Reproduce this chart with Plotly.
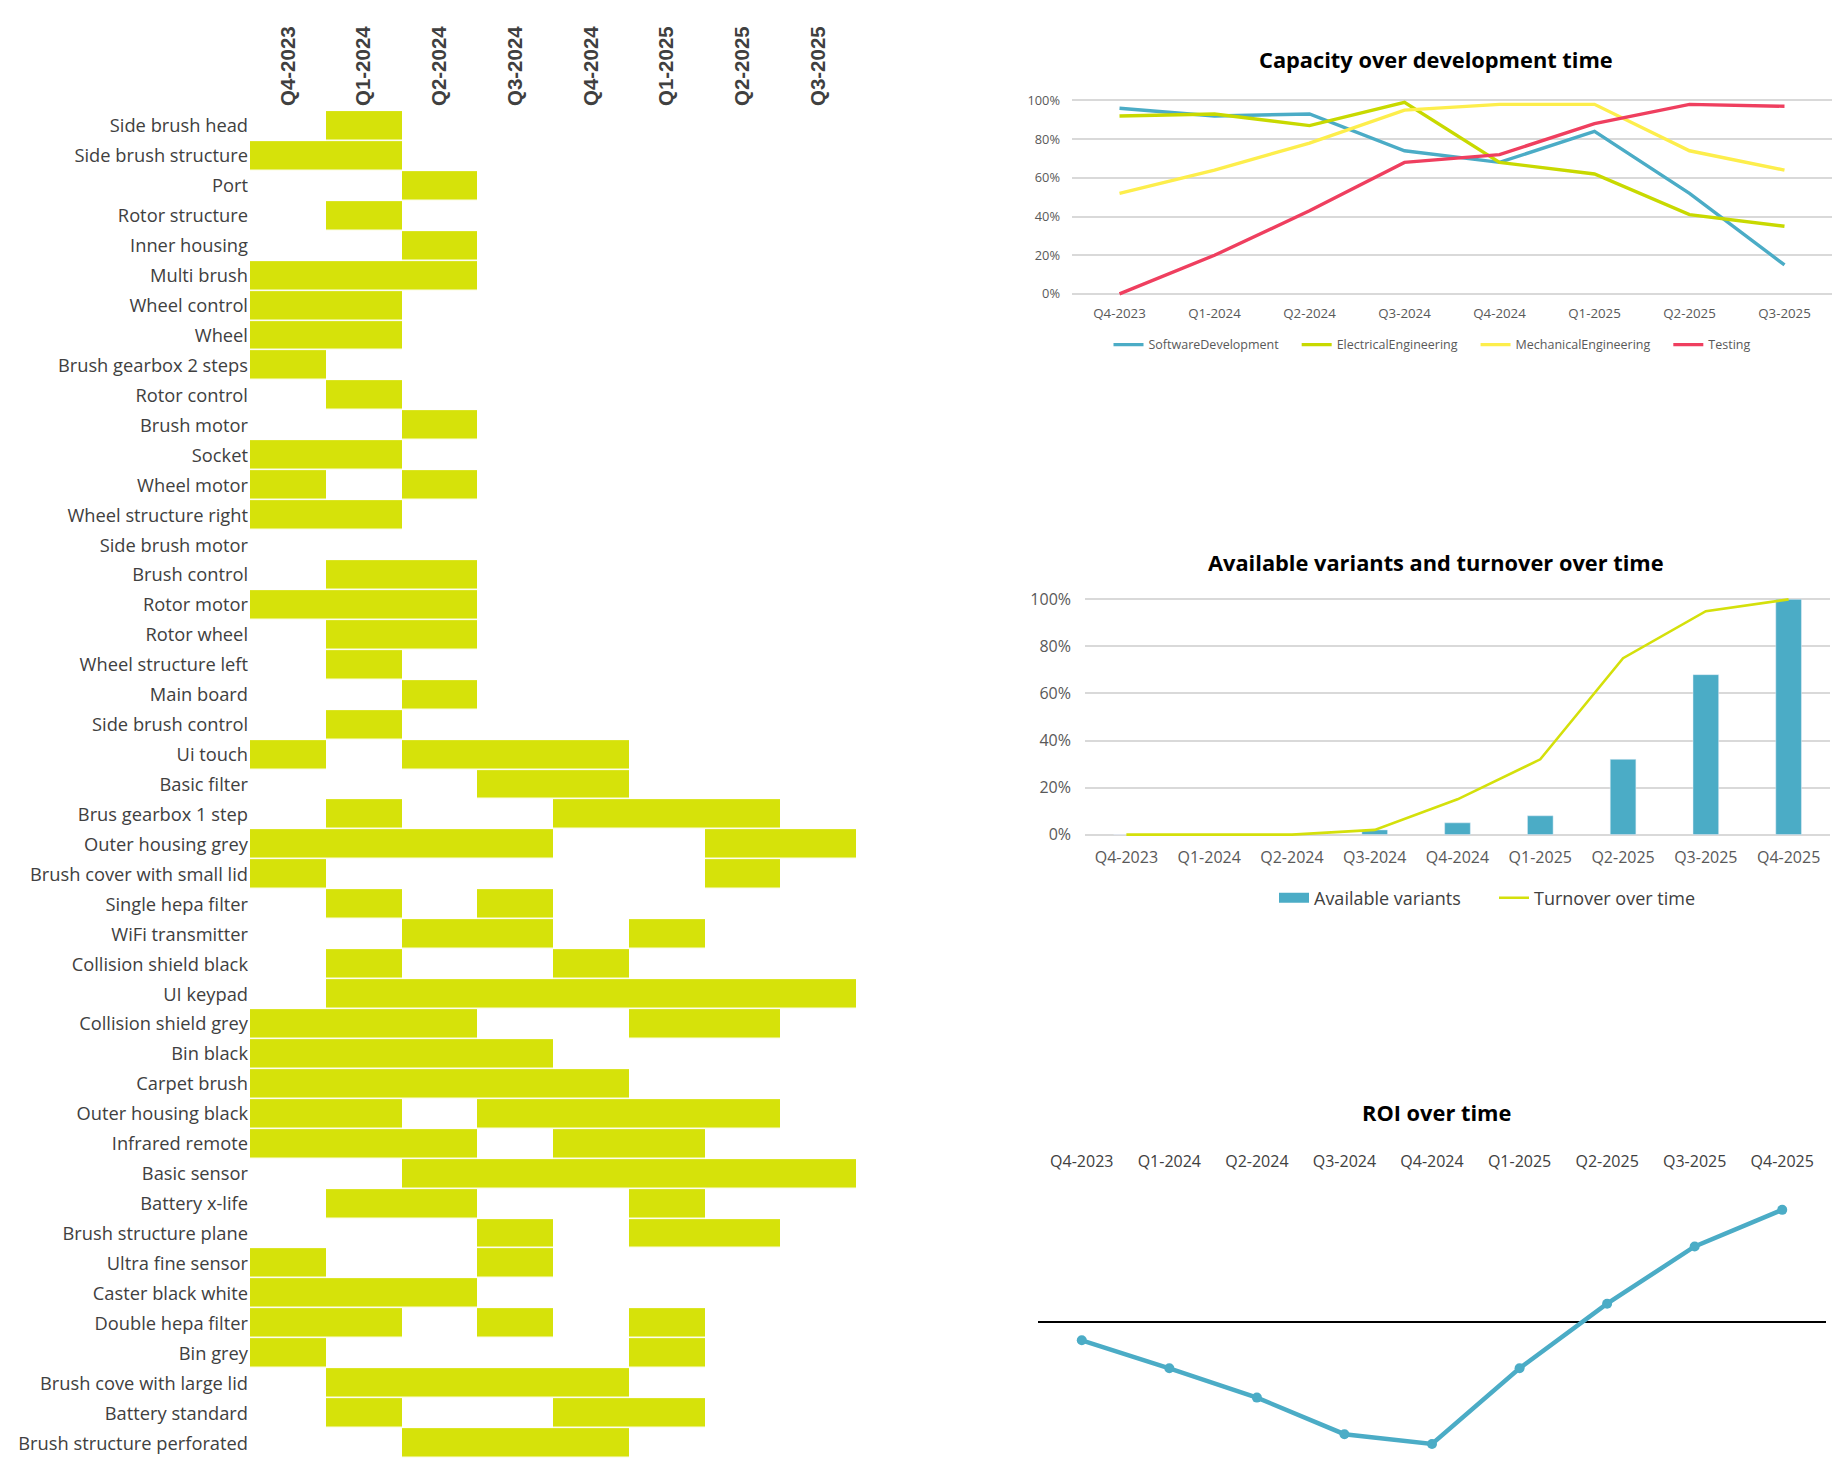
import plotly.graph_objects as go

W, H = 1836, 1475

# ---------------- data ----------------
gantt_quarters = ["Q4-2023", "Q1-2024", "Q2-2024", "Q3-2024",
                  "Q4-2024", "Q1-2025", "Q2-2025", "Q3-2025"]

components = [
    "Side brush head", "Side brush structure", "Port", "Rotor structure",
    "Inner housing", "Multi brush", "Wheel control", "Wheel",
    "Brush gearbox 2 steps", "Rotor control", "Brush motor", "Socket",
    "Wheel motor", "Wheel structure right", "Side brush motor", "Brush control",
    "Rotor motor", "Rotor wheel", "Wheel structure left", "Main board",
    "Side brush control", "Ui touch", "Basic filter", "Brus gearbox 1 step",
    "Outer housing grey", "Brush cover with small lid", "Single hepa filter",
    "WiFi transmitter", "Collision shield black", "UI keypad",
    "Collision shield grey", "Bin black", "Carpet brush", "Outer housing black",
    "Infrared remote", "Basic sensor", "Battery x-life", "Brush structure plane",
    "Ultra fine sensor", "Caster black white", "Double hepa filter", "Bin grey",
    "Brush cove with large lid", "Battery standard", "Brush structure perforated",
]

# 1 = component in development in that quarter (Q4-2023 ... Q3-2025)
schedule = [
    [0, 1, 0, 0, 0, 0, 0, 0],  # Side brush head
    [1, 1, 0, 0, 0, 0, 0, 0],  # Side brush structure
    [0, 0, 1, 0, 0, 0, 0, 0],  # Port
    [0, 1, 0, 0, 0, 0, 0, 0],  # Rotor structure
    [0, 0, 1, 0, 0, 0, 0, 0],  # Inner housing
    [1, 1, 1, 0, 0, 0, 0, 0],  # Multi brush
    [1, 1, 0, 0, 0, 0, 0, 0],  # Wheel control
    [1, 1, 0, 0, 0, 0, 0, 0],  # Wheel
    [1, 0, 0, 0, 0, 0, 0, 0],  # Brush gearbox 2 steps
    [0, 1, 0, 0, 0, 0, 0, 0],  # Rotor control
    [0, 0, 1, 0, 0, 0, 0, 0],  # Brush motor
    [1, 1, 0, 0, 0, 0, 0, 0],  # Socket
    [1, 0, 1, 0, 0, 0, 0, 0],  # Wheel motor
    [1, 1, 0, 0, 0, 0, 0, 0],  # Wheel structure right
    [0, 0, 0, 0, 0, 0, 0, 0],  # Side brush motor
    [0, 1, 1, 0, 0, 0, 0, 0],  # Brush control
    [1, 1, 1, 0, 0, 0, 0, 0],  # Rotor motor
    [0, 1, 1, 0, 0, 0, 0, 0],  # Rotor wheel
    [0, 1, 0, 0, 0, 0, 0, 0],  # Wheel structure left
    [0, 0, 1, 0, 0, 0, 0, 0],  # Main board
    [0, 1, 0, 0, 0, 0, 0, 0],  # Side brush control
    [1, 0, 1, 1, 1, 0, 0, 0],  # Ui touch
    [0, 0, 0, 1, 1, 0, 0, 0],  # Basic filter
    [0, 1, 0, 0, 1, 1, 1, 0],  # Brus gearbox 1 step
    [1, 1, 1, 1, 0, 0, 1, 1],  # Outer housing grey
    [1, 0, 0, 0, 0, 0, 1, 0],  # Brush cover with small lid
    [0, 1, 0, 1, 0, 0, 0, 0],  # Single hepa filter
    [0, 0, 1, 1, 0, 1, 0, 0],  # WiFi transmitter
    [0, 1, 0, 0, 1, 0, 0, 0],  # Collision shield black
    [0, 1, 1, 1, 1, 1, 1, 1],  # UI keypad
    [1, 1, 1, 0, 0, 1, 1, 0],  # Collision shield grey
    [1, 1, 1, 1, 0, 0, 0, 0],  # Bin black
    [1, 1, 1, 1, 1, 0, 0, 0],  # Carpet brush
    [1, 1, 0, 1, 1, 1, 1, 0],  # Outer housing black
    [1, 1, 1, 0, 1, 1, 0, 0],  # Infrared remote
    [0, 0, 1, 1, 1, 1, 1, 1],  # Basic sensor
    [0, 1, 1, 0, 0, 1, 0, 0],  # Battery x-life
    [0, 0, 0, 1, 0, 1, 1, 0],  # Brush structure plane
    [1, 0, 0, 1, 0, 0, 0, 0],  # Ultra fine sensor
    [1, 1, 1, 0, 0, 0, 0, 0],  # Caster black white
    [1, 1, 0, 1, 0, 1, 0, 0],  # Double hepa filter
    [1, 0, 0, 0, 0, 1, 0, 0],  # Bin grey
    [0, 1, 1, 1, 1, 0, 0, 0],  # Brush cove with large lid
    [0, 1, 0, 0, 1, 1, 0, 0],  # Battery standard
    [0, 0, 1, 1, 1, 0, 0, 0],  # Brush structure perforated
]

cap_quarters = ["Q4-2023", "Q1-2024", "Q2-2024", "Q3-2024",
                "Q4-2024", "Q1-2025", "Q2-2025", "Q3-2025"]
software_dev = [0.96, 0.92, 0.93, 0.74, 0.68, 0.84, 0.52, 0.15]
electrical_eng = [0.92, 0.93, 0.87, 0.99, 0.68, 0.62, 0.41, 0.35]
mechanical_eng = [0.52, 0.64, 0.78, 0.95, 0.98, 0.98, 0.74, 0.64]
testing = [0.00, 0.20, 0.43, 0.68, 0.72, 0.88, 0.98, 0.97]

var_quarters = ["Q4-2023", "Q1-2024", "Q2-2024", "Q3-2024", "Q4-2024",
                "Q1-2025", "Q2-2025", "Q3-2025", "Q4-2025"]
available_variants = [0.0, 0.0, 0.0, 0.02, 0.05, 0.08, 0.32, 0.68, 1.00]
turnover = [0.0, 0.0, 0.0, 0.02, 0.15, 0.32, 0.75, 0.95, 1.00]

roi_quarters = var_quarters
roi = [-15, -38, -62, -92, -100, -38, 15, 62, 92]

# ---------------- styling helpers ----------------
GREEN = "#D6E20A"
BLUE = "#4BACC6"
ELEC = "#C8D900"
MECH = "#FDEE4C"
TEST = "#EF3F5F"
TXT = "#595959"
FONT = "Open Sans"
PAD = "\u00a0" * 4   # extra spacing between legend entries


def px_x(p):
    return p / W


def px_y(p):
    return 1 - p / H


fig = go.Figure()

# ---------------- Gantt (heatmap) ----------------
z = [[1 if v else None for v in row] for row in schedule]
fig.add_trace(go.Heatmap(
    z=z, x=gantt_quarters, y=components,
    colorscale=[[0, GREEN], [1, GREEN]], showscale=False,
    xgap=0, ygap=1.5, zmin=0, zmax=1, hoverinfo="skip",
    xaxis="x", yaxis="y",
))

# ---------------- Capacity chart ----------------
cap_series = [("SoftwareDevelopment", software_dev, BLUE),
              ("ElectricalEngineering", electrical_eng, ELEC),
              ("MechanicalEngineering", mechanical_eng, MECH),
              ("Testing", testing, TEST)]
for i, (name, vals, col) in enumerate(cap_series):
    label = name + (PAD if i < len(cap_series) - 1 else "")
    fig.add_trace(go.Scatter(
        x=cap_quarters, y=vals, mode="lines", name=label,
        line=dict(color=col, width=3.4), xaxis="x2", yaxis="y2",
        legend="legend",
    ))

# ---------------- Variants / turnover ----------------
fig.add_trace(go.Bar(
    x=var_quarters, y=available_variants, name="Available variants",
    marker=dict(color=BLUE), xaxis="x3", yaxis="y3", showlegend=False,
))
# legend key for the bars (wide rectangle like the original)
fig.add_trace(go.Scatter(
    x=[None], y=[None], mode="lines", name="Available variants",
    line=dict(color=BLUE, width=10), xaxis="x3", yaxis="y3",
    legend="legend2", hoverinfo="skip",
))
fig.add_trace(go.Scatter(
    x=var_quarters, y=turnover, mode="lines", name="Turnover over time",
    line=dict(color="#D4E00B", width=2.6), xaxis="x3", yaxis="y3",
    legend="legend2",
))

# ---------------- ROI ----------------
fig.add_trace(go.Scatter(
    x=roi_quarters, y=roi, mode="lines+markers", name="ROI",
    line=dict(color=BLUE, width=4.5), marker=dict(color=BLUE, size=10),
    xaxis="x4", yaxis="y4", showlegend=False,
))

pct_axis = dict(range=[-0.02, 1.02], tickvals=[0, 0.2, 0.4, 0.6, 0.8, 1.0],
                tickformat=".0%", showgrid=True, gridcolor="#D9D9D9",
                gridwidth=1.5, zeroline=False, showline=False, ticks="",
                fixedrange=True)

fig.update_layout(
    width=W, height=H, margin=dict(l=0, r=0, t=0, b=0),
    paper_bgcolor="white", plot_bgcolor="rgba(0,0,0,0)",
    font=dict(family=FONT, color=TXT),
    bargap=0.69,
    # Gantt axes
    xaxis=dict(domain=[px_x(250), px_x(856)], side="top", type="category",
               categoryorder="array", categoryarray=gantt_quarters,
               range=[-0.5, 7.5], tickangle=-90, showgrid=False,
               zeroline=False, showline=False, ticks="",
               tickfont=dict(family="Liberation Sans", size=20.5,
                             color="#404040", weight="bold"),
               ticklabelstandoff=4, anchor="y"),
    yaxis=dict(domain=[px_y(1464), px_y(105)], type="category",
               categoryorder="array", categoryarray=components,
               range=[len(components) - 0.5, -0.5], showgrid=False,
               zeroline=False, showline=False, ticks="",
               tickfont=dict(family=FONT, size=18.3, color="#404040"),
               ticklabelstandoff=1, anchor="x"),
    # Capacity axes
    xaxis2=dict(domain=[px_x(1072), px_x(1832)], anchor="y2", type="category",
                range=[-0.5, 7.5], showgrid=False, zeroline=False,
                showline=False, ticks="", tickfont=dict(size=13.3, color=TXT),
                ticklabelstandoff=6),
    yaxis2=dict(domain=[px_y(293.4), px_y(90.4)], anchor="x2",
                tickfont=dict(size=12.8, color=TXT), ticklabelstandoff=11,
                **pct_axis),
    # Variants axes
    xaxis3=dict(domain=[px_x(1085), px_x(1830)], anchor="y3", type="category",
                range=[-0.5, 8.5], showgrid=False, zeroline=False,
                showline=False, ticks="", tickfont=dict(size=16, color=TXT),
                ticklabelstandoff=7),
    yaxis3=dict(domain=[px_y(839.7), px_y(592.9)], anchor="x3",
                tickfont=dict(size=16, color=TXT), ticklabelstandoff=13,
                **pct_axis),
    # ROI axes
    xaxis4=dict(domain=[px_x(1038), px_x(1826)], anchor="y4", type="category",
                side="top", range=[-0.5, 8.5], showgrid=False, zeroline=False,
                showline=False, ticks="", tickfont=dict(size=16, color="#404040"),
                ticklabelstandoff=10),
    yaxis4=dict(domain=[px_y(1470), px_y(1185)], anchor="x4",
                range=[-116.5, 115.2], showgrid=False, zeroline=True,
                zerolinecolor="#000000", zerolinewidth=1.6,
                showticklabels=False, ticks="", showline=False),
    legend=dict(orientation="h", x=px_x(1432), xanchor="center",
                y=px_y(341), yanchor="middle",
                font=dict(size=12.5, color=TXT), bgcolor="rgba(0,0,0,0)",
                itemwidth=30, tracegroupgap=0),
    legend2=dict(orientation="h", x=px_x(1494), xanchor="center",
                 y=px_y(899), yanchor="middle",
                 font=dict(size=18, color="#404040"),
                 bgcolor="rgba(0,0,0,0)", itemwidth=30,
                 entrywidth=175, entrywidthmode="pixels"),
)

titles = [("Capacity over development time", 53),
          ("Available variants and turnover over time", 560),
          ("ROI over time", 1115)]
for text, ypx in titles:
    fig.add_annotation(text="<b>" + text + "</b>", xref="paper", yref="paper",
                       x=px_x(1436), y=px_y(ypx), xanchor="center",
                       yanchor="middle", showarrow=False,
                       font=dict(family=FONT, size=21.8, color="#000000"))

fig.write_html(
    "out.html",
    config={"displayModeBar": False},
    post_script="document.body.style.margin='0';"
                "document.body.style.overflow='hidden';",
)
